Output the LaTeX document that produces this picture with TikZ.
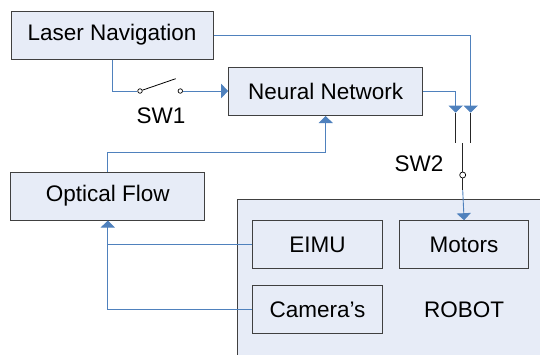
\documentclass[tikz,border=0pt]{standalone}
\usepackage{fontspec}
\usetikzlibrary{positioning, arrows.meta}
\newfontfamily\labelfont{Liberation Sans}
\definecolor{boxfill}{RGB}{231,236,247}
\definecolor{boxline}{RGB}{64,64,64}
\definecolor{linkblue}{RGB}{79,129,189}

\begin{document}
\begin{tikzpicture}[x=1pt, y=1pt,
		block/.style={rectangle, draw=boxline, fill=boxfill, line width=1pt, inner sep=0pt, minimum width=194pt, minimum height=48pt, font=\labelfont\fontsize{22.5}{27}\selectfont},
		subblock/.style={block, minimum width=129.6pt},
		contact/.style={circle, draw=black, fill=white, line width=0.7pt, inner sep=0pt, minimum size=4.5pt},
		link/.style={draw=linkblue, line width=0.9pt},
		swline/.style={draw=black!85, line width=0.9pt},
		mylabel/.style={font=\labelfont\fontsize{22.5}{27}\selectfont},
		>={Triangle[width=14pt, length=7pt]}
	]
	\useasboundingbox (0,0) rectangle (540,-354);
	\clip (0,0) rectangle (540,-354);

	\node[block, minimum width=202pt] (laser) at (112,-35) {Laser Navigation};
	\node[block] (nn) at (325.7,-91.5) {Neural Network};
	\node[block] (optical) at (107.8,-196) {Optical Flow};
	\node[block, anchor=north west, minimum width=330pt, minimum height=170pt] (robot) at (236.7,-199) {};
	\node[subblock] (eimu) at (317.5,-244.7) {EIMU};
	\node[subblock, right=16pt of eimu] (motors) {Motors};
	\node[subblock, below=16pt of eimu] (cams) {Camera’s};
	\node[mylabel] (robotlabel) at (motors |- cams) {ROBOT};

	% switch SW1
	\node[contact] (sw1a) at (140,-91) {};
	\node[contact] (sw1b) at (180.3,-91) {};
	\coordinate (sw1arm) at (175.7,-78.7);
	\node[mylabel] (sw1label) at (161,-116) {SW1};

	% switch SW2
	\coordinate (sw2l) at (455.7,-112.7);
	\coordinate (sw2r) at (470.7,-112.7);
	\coordinate (sw2lb) at (455.7,-143);
	\coordinate (sw2rb) at (470.7,-143);
	\coordinate (sw2m) at (462.7,-143);
	\node[contact, minimum size=6pt] (sw2c) at (462.7,-175) {};
	\coordinate (sw2d) at (462.7,-190);
	\node[mylabel] (sw2label) at (419,-164) {SW2};

	\draw[line width=0.8pt] (sw1a) -- (sw1arm);
	\foreach \i/\j in {sw2l/sw2lb, sw2r/sw2rb, sw2m/sw2c, sw2c/sw2d}
		\draw[swline] (\i) -- (\j);

	\draw[link] (laser.south) |- (sw1a);
	\draw[link, ->] (sw1b) -- (sw1b -| nn.west);

	\foreach \i/\j in {laser.east/sw2r, nn.east/sw2l, eimu.west/optical.south}
		\draw[link, ->] (\i) -| (\j);

	\draw[link] (cams.west) -| (eimu.west -| optical.south);
	\draw[link, ->] (sw2d) -- (motors.north);
	\draw[link, ->] (optical.north) -- ++(0,18.7) -| (nn.south);

\end{tikzpicture}
\end{document}
